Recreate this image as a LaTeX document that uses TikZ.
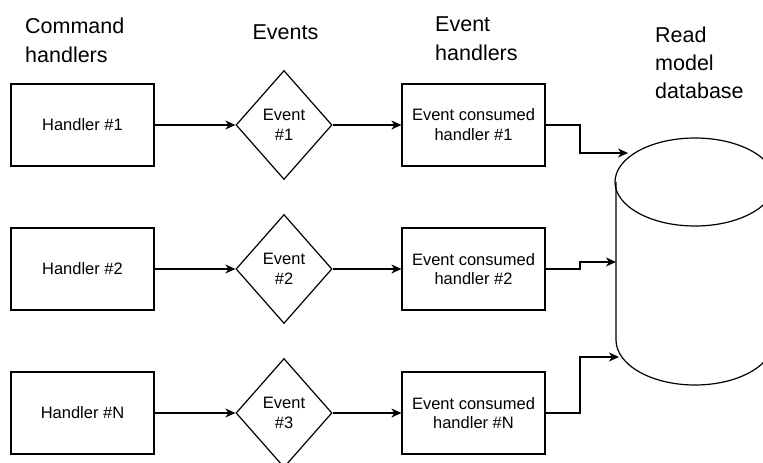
\documentclass[tikz,border=0pt]{standalone}
\usepackage{fontspec}
\setmainfont{Liberation Sans}
\usetikzlibrary{arrows.meta,shapes.geometric}
\begin{document}
\begin{tikzpicture}[x=1pt,y=-1pt,
  stroke/.style={line width=1.2pt},
  box/.style={stroke,draw,rectangle,minimum width=143pt,minimum height=82pt,
    inner sep=0pt,align=center,font=\fontsize{16.5}{19.8}\selectfont},
  evt/.style={stroke,draw,diamond,minimum width=96pt,minimum height=109pt,
    inner sep=0pt,align=center,font=\fontsize{16.5}{19.8}\selectfont},
  heading/.style={inner sep=0pt,align=left,font=\fontsize{21.5}{29.5}\selectfont},
  flow/.style={stroke,-{Stealth[length=10pt,width=9pt,inset=3pt]}}]

\useasboundingbox (0,0) rectangle (763,463);

% column headings
\node[heading,anchor=north west] (hcmd) at (25,17.5) {Command\\handlers};
\node[heading,anchor=north] (hevt) at (285.5,24.5) {Events};
\node[heading,anchor=north west] (heh) at (435,16.5) {Event\\handlers};
\node[heading,anchor=north west,font=\fontsize{21.5}{28}\selectfont] (hdb) at (655,26.5) {Read\\model\\database};

% command handlers
\node[box] (c1) at (82.5,125) {Handler \#1};
\node[box] (c2) at (82.5,269) {Handler \#2};
\node[box] (c3) at (82.5,413) {Handler \#N};

% events
\node[evt] (e1) at (284,125) {Event\\\#1};
\node[evt] (e2) at (284,269) {Event\\\#2};
\node[evt] (e3) at (284,413) {Event\\\#3};

% event handlers
\node[box] (h1) at (473.5,125) {Event consumed\\handler \#1};
\node[box] (h2) at (473.5,269) {Event consumed\\handler \#2};
\node[box] (h3) at (473.5,413) {Event consumed\\handler \#N};

% read model database (cylinder)
\draw[stroke] (695,182) ellipse [x radius=80, y radius=44];
\draw[stroke] (616,182) -- (616,340) arc [start angle=180,end angle=0,x radius=79,y radius=45] -- (774,182);
\coordinate (db1) at (628,153);
\coordinate (db2) at (616,262);
\coordinate (db3) at (619,357);

% connectors
\foreach \i in {1,2,3} {
  \draw[flow] (c\i.east) -- (e\i.west);
  \draw[flow] (e\i.east) -- (h\i.west);
}
\draw[flow] (h1.east) -- (580,125) |- (db1);
\draw[flow] (h2.east) -- (580,269) |- (db2);
\draw[flow] (h3.east) -- (580,413) |- (db3);
\end{tikzpicture}
\end{document}
